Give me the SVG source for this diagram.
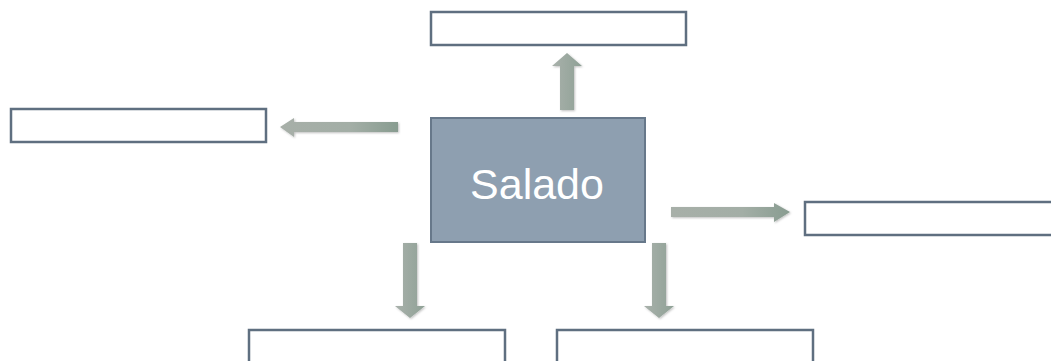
<svg xmlns="http://www.w3.org/2000/svg" width="1051" height="361" viewBox="0 0 1051 361">
<defs>
<linearGradient id="gv" x1="0" y1="0" x2="1" y2="0"><stop offset="0" stop-color="#a9b1ab"/><stop offset="1" stop-color="#8fa196"/></linearGradient>
<linearGradient id="gh" x1="0" y1="0" x2="1" y2="0"><stop offset="0" stop-color="#a7afa8"/><stop offset="0.6" stop-color="#a3aea6"/><stop offset="1" stop-color="#889c90"/></linearGradient>
<filter id="sh" x="-20%" y="-20%" width="140%" height="140%"><feDropShadow dx="1" dy="1" stdDeviation="1" flood-color="#000" flood-opacity="0.25"/></filter>
<style>
.box{fill:#fff;stroke:#5f6f80;stroke-width:2.5}
.main{fill:#8e9fb0;stroke:#67788a;stroke-width:2}
.lbl{font-family:"Liberation Sans",Arial,sans-serif;font-size:43px;fill:#fff;text-anchor:middle}
.arr{fill:url(#gv);filter:url(#sh)}
.arrh{fill:url(#gh);filter:url(#sh)}
</style>
</defs>
<g id="connectors">
<path class="arr" d="M560,110 L560,66 L552,66 L567,53 L582,66 L574,66 L574,110 Z"/>
<path class="arrh" d="M398,122 L294,122 L294,118 L280,127 L294,137 L294,132 L398,132 Z"/>
<path class="arrh" d="M671,207 L774,207 L774,203 L790,212 L774,222 L774,217 L671,217 Z"/>
<path class="arr" d="M403,243 L417,243 L417,306 L425,306 L410,318 L395,306 L403,306 Z"/>
<path class="arr" d="M652,243 L666,243 L666,306 L674,306 L659,318 L644,306 L652,306 Z"/>
</g>
<g id="node-top"><rect class="box" x="431" y="12" width="255" height="33"/></g>
<g id="node-left"><rect class="box" x="11" y="109" width="255" height="33"/></g>
<g id="node-center"><rect class="main" x="431" y="118" width="214" height="124"/><text class="lbl" x="537" y="199">Salado</text></g>
<g id="node-right"><rect class="box" x="805" y="202" width="255" height="33"/></g>
<g id="node-bottom-left"><rect class="box" x="249" y="330" width="256" height="40"/></g>
<g id="node-bottom-right"><rect class="box" x="557" y="330" width="256" height="40"/></g>
</svg>
